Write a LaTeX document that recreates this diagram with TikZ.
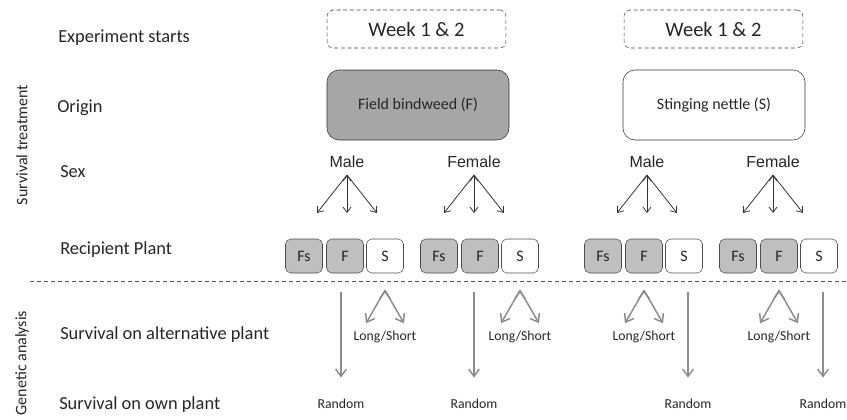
\documentclass[tikz,border=0pt]{standalone}
\usepackage{fontspec}
\setmainfont{Carlito}
\newfontfamily\arialfont{Liberation Sans}
\usetikzlibrary{arrows.meta}

\definecolor{boxgray}{HTML}{A6A6A8}
\definecolor{cellgray}{HTML}{BFBFC1}
\definecolor{arrowgray}{HTML}{8C8C8C}
\definecolor{inkgray}{HTML}{262626}

\begin{document}
\begin{tikzpicture}[x=0.75pt, y=-0.75pt, inkgray,
  row label/.style={anchor=west, inner sep=0pt, font=\fontsize{13.8}{16}\selectfont},
  side label/.style={rotate=90, inner sep=0pt, font=\fontsize{12}{14}\selectfont},
  week box/.style={draw=black!75, dashed, dash pattern=on 3pt off 2pt, rounded corners=4pt, minimum width=134pt, minimum height=28.5pt, font=\fontsize{15.4}{18}\selectfont},
  origin box/.style={draw=black!80, rounded corners=9pt, minimum width=136.5pt, minimum height=52.5pt, font=\fontsize{12}{14}\selectfont},
  sex label/.style={anchor=south, inner sep=5pt, font=\arialfont\fontsize{12}{14}\selectfont},
  plant box/.style={draw=black!70, rounded corners=4pt, minimum width=27.75pt, minimum height=25.5pt, inner sep=0pt, font=\fontsize{12}{14}\selectfont},
  small label/.style={inner sep=0pt, font=\fontsize{10.3}{12}\selectfont},
  thin arrow/.style={draw=black!80, line width=0.6pt, -{Straight Barb[length=4pt,width=6pt]}},
  gray arrow/.style={draw=arrowgray, line width=1.1pt, -{Straight Barb[length=5.5pt,width=8pt]}}]
\useasboundingbox (0,0) rectangle (847,419);

% row labels
\node[row label] (start) at (58,38) {Experiment starts};
\node[row label] (origin) at (57,108) {Origin};
\node[row label] (sex) at (60,172) {Sex};
\node[row label] (recipient) at (60,250) {Recipient Plant};
\node[row label] (alt) at (60,335) {Survival on alternative plant};
\node[row label] (own) at (59,405) {Survival on own plant};
\node[side label] (treat) at (22,145) {Survival treatment};
\node[side label] (gen) at (22,363) {Genetic analysis};

% week and origin
\node[week box] (week1) at (416.5,29) {Week 1 \& 2};
\node[week box] (week2) at (713.5,29) {Week 1 \& 2};
\node[origin box, fill=boxgray] (bind) at (418,105) {Field bindweed (F)};
\node[origin box] (nettle) at (714,105) {Stinging nettle (S)};

% recipient plants
\foreach \g/\x in {1/304, 2/439, 3/603, 4/738} {
  \node[plant box, fill=cellgray] (fs\g) at (\x,256) {Fs};
  \node[plant box, fill=cellgray] (f\g) at (\x+41,256) {F};
  \node[plant box] (s\g) at (\x+81,256) {S};
}

% sex
\foreach \n/\x/\t in {sm1/347/Male, sf1/474/Female, sm2/647/Male, sf2/773/Female} {
  \node[sex label] (\n) at (\x,175) {\t};
  \coordinate (\n-l) at (\x-30,213);
  \coordinate (\n-c) at (\x,213);
  \coordinate (\n-r) at (\x+30,213);
  \path[thin arrow] (\n.south) edge (\n-l) edge (\n-c) edge (\n-r);
}

\coordinate (cut-l) at (30,281);
\coordinate (cut-r) at (847,281);
\draw[black!65, dashed, dash pattern=on 3pt off 2.25pt, line width=0.7pt] (cut-l) -- (cut-r);

% survival on alternative plant
\foreach \b in {s1, s2, f3, f4} {
  \coordinate (\b-fork) at ([yshift=-12.75pt]\b.south);
  \coordinate (\b-l) at ([shift={(-19,33)}]\b-fork);
  \coordinate (\b-r) at ([shift={(19,33)}]\b-fork);
  \node[small label] (\b-ls) at ([yshift=-35.25pt]\b-fork) {Long/Short};
  \path[gray arrow] (\b-fork) edge (\b-l) edge (\b-r);
}

% survival on own plant
\foreach \r/\x in {r1/341, r2/474, r3/688, r4/823} {
  \node[small label] (\r) at (\x,404) {Random};
  \coordinate (\r-top) at (\x,292);
  \draw[gray arrow, shorten >=16pt] (\r-top) -- (\r);
}
\end{tikzpicture}
\end{document}
